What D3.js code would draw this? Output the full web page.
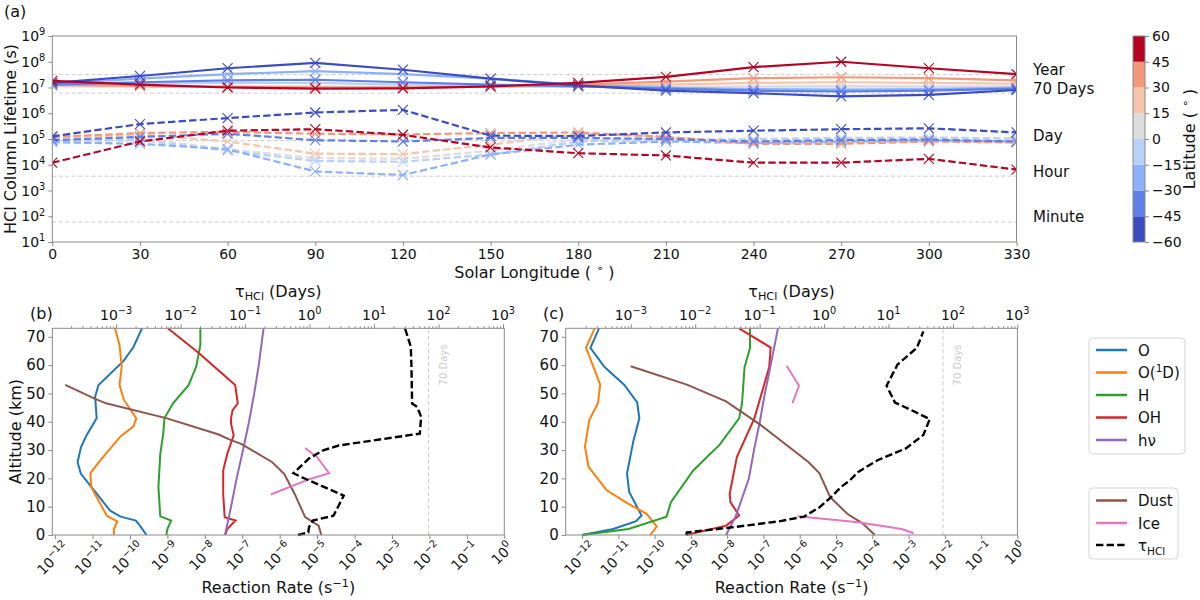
<!DOCTYPE html>
<html><head><meta charset="utf-8">
<script src="https://cdn.jsdelivr.net/npm/d3@7/dist/d3.min.js"></script>
<style>body{margin:0;background:#fff}svg text{font-family:"DejaVu Sans",sans-serif;fill:#111}</style>
</head><body>
<script>
// ================= DATA =================
// Panel (a): HCl column lifetime (s) vs solar longitude, per latitude band
const solarLongitude = [0,30,60,90,120,150,180,210,240,270,300,330];
const latitudeEdges = [-60,-45,-30,-15,0,15,30,45,60];
const latitudeBands = [-52.5,-37.5,-22.5,-7.5,7.5,22.5,37.5,52.5];
const latitudeColors = ['#3b4cc0','#5f7fe8','#8db0fe','#b9d0f9','#dddddd','#f5c4ac','#f4987a','#b40426'];

const solid_52S = [1.5e7,2.8e7,5.6e7,9e7,4.9e7,2.2e7,1.2e7,7.6e6,6e6,4.5e6,5.2e6,8e6];
const solid_37S = [1.3e7,1.6e7,1.9e7,2e7,1.6e7,1.3e7,1.1e7,9e6,7.5e6,7e6,7.5e6,9e6];
const solid_22S = [1.4e7,2.2e7,3.3e7,4.3e7,3.3e7,2.2e7,1.3e7,1e7,8.5e6,8e6,8.5e6,1e7];
const solid_07S = [1.2e7,1.4e7,1.5e7,1.5e7,1.3e7,1.2e7,1.1e7,9.5e6,9e6,9e6,9e6,1e7];
const solid_07N = [1.1e7,1.1e7,1.1e7,1.1e7,1.05e7,1.05e7,1.05e7,1.05e7,1.1e7,1.15e7,1.1e7,1.1e7];
const solid_22N = [1.2e7,1.1e7,1.05e7,1e7,1e7,1.05e7,1.15e7,1.3e7,1.5e7,1.6e7,1.5e7,1.4e7];
const solid_37N = [1.3e7,1.15e7,1.05e7,1e7,1e7,1.1e7,1.3e7,1.7e7,2.3e7,2.5e7,2.3e7,1.9e7];
const solid_52N = [1.8e7,1.3e7,1e7,9e6,9.2e6,1.1e7,1.5e7,2.6e7,6.2e7,1e8,5.6e7,3.3e7];

const dashed_52S = [1.27e5,3.8e5,6.5e5,1.07e6,1.35e6,1.35e5,1.3e5,1.8e5,2.1e5,2.4e5,2.6e5,1.8e5];
const dashed_37S = [9e4,1.2e5,1.6e5,9e4,8e4,1.1e5,1.1e5,1e5,8e4,9e4,9.5e4,8e4];
const dashed_22S = [7.5e4,6.5e4,4e4,5.5e3,4e3,2.5e4,6e4,8e4,7e4,8e4,9e4,8e4];
const dashed_07S = [8.5e4,9e4,3.5e4,1.4e4,1.3e4,2.5e4,8e4,9e4,1e5,1.1e5,1.15e5,1.05e5];
const dashed_07N = [9e4,1.05e5,4e4,1.8e4,1.7e4,3.5e4,1e5,1e5,9e4,1e5,1.1e5,1e5];
const dashed_22N = [1.1e5,1.5e5,8e4,2.7e4,2.6e4,6e4,1.6e5,1.2e5,7e4,7e4,8.5e4,7.5e4];
const dashed_37N = [1.2e5,1.7e5,1.9e5,1.6e5,1.5e5,1.7e5,1.8e5,1.2e5,6.5e4,6.5e4,8e4,7.3e4];
const dashed_52N = [1.2e4,8e4,2.1e5,2.4e5,1.45e5,4.7e4,2.8e4,2.3e4,1.2e4,1.2e4,1.7e4,6.5e3];

const solidSeries = [solid_52S,solid_37S,solid_22S,solid_07S,solid_07N,solid_22N,solid_37N,solid_52N];
const dashedSeries = [dashed_52S,dashed_37S,dashed_22S,dashed_07S,dashed_07N,dashed_22N,dashed_37N,dashed_52N];

const refTimes = [3.156e7, 6.048e6, 86400, 3600, 60];
const refLabels = ['Year','70 Days','Day','Hour','Minute'];
const lifetimeTicks = [1e1,1e2,1e3,1e4,1e5,1e6,1e7,1e8,1e9];

// Panels (b),(c): [altitude km, log10 reaction rate s^-1]  (tau: log10 days)
const altitudeTicks = [0,10,20,30,40,50,60,70];
const rateTickExps = [-12,-11,-10,-9,-8,-7,-6,-5,-4,-3,-2,-1,0];
const tauTickExps = [-3,-2,-1,0,1,2,3];
const tau70Days = 70;

const b_O = [[0,-9.56],[2.7,-9.7],[5.1,-9.84],[6.5,-10.25],[8.6,-10.53],[16.3,-10.99],[21.6,-11.31],[25.7,-11.4],[31,-11.31],[35,-11.17],[41.2,-10.89],[48.9,-10.93],[53,-10.84],[61.5,-10.17],[66.3,-9.91],[73,-9.68]];
const b_O1D = [[0,-10.43],[2.1,-10.43],[4.8,-10.34],[6.8,-10.62],[16.8,-11.03],[21.8,-11.06],[26.3,-10.8],[35,-10.24],[38.3,-9.91],[41.2,-9.83],[47.7,-10.16],[53,-10.28],[59.5,-10.22],[67.1,-10.28],[73,-10.4]];
const b_H = [[0,-9.03],[2.1,-9.0],[5.1,-8.9],[6.6,-9.19],[16.9,-9.24],[28.7,-9.19],[36,-9.11],[41.2,-9.08],[46.5,-8.85],[53,-8.43],[59.5,-8.23],[67.1,-8.12],[73,-8.12]];
const b_OH = [[0,-7.46],[2.1,-7.4],[5.1,-7.18],[6.3,-7.47],[14.5,-7.51],[22.8,-7.51],[28.7,-7.4],[35.2,-7.23],[39.3,-7.3],[41.2,-7.3],[44,-7.26],[46.5,-7.12],[53,-7.19],[64.4,-8.17],[73,-8.99]];
const b_hv = [[0,-7.46],[5,-7.38],[10,-7.3],[20,-7.15],[30,-6.98],[40,-6.82],[50,-6.68],[60,-6.56],[73,-6.43]];
const b_Dust = [[0,-4.89],[3.3,-4.96],[6.3,-5.32],[14.5,-5.6],[21.6,-5.88],[25.7,-6.2],[32.2,-7.03],[33.6,-7.32],[35.5,-7.63],[41.2,-9.01],[46.5,-10.64],[48.1,-10.93],[53,-11.73]];
const b_Ice = [[14.3,-6.24],[19.8,-5.19],[21.8,-4.68],[27.5,-5.0],[30.7,-5.32]];
const b_tau = [[0,-0.18],[0.9,-0.02],[2.7,-0.01],[5.1,0.05],[6.8,0.37],[13.9,0.53],[20.4,-0.12],[21.8,-0.25],[27,-0.01],[29.9,0.21],[31.6,0.45],[35.8,1.71],[41.7,1.73],[45.2,1.67],[46.4,1.59],[59.4,1.58],[66.5,1.57],[73,1.48]];

const c_O = [[0,-12.0],[2.1,-11.14],[4.9,-10.51],[6.9,-10.36],[15.2,-10.7],[21.7,-10.76],[33.5,-10.58],[41.2,-10.42],[46.8,-10.48],[53.1,-10.84],[59.3,-11.38],[66.1,-11.77],[73,-11.53]];
const c_O1D = [[0,-10.12],[3,-9.94],[7.5,-10.22],[11,-10.72],[15.8,-11.32],[24.1,-11.82],[31.2,-11.92],[40.6,-11.8],[46.6,-11.56],[53.1,-11.5],[66.2,-11.89],[73,-11.65]];
const c_H = [[0,-12.0],[2.1,-10.72],[6.5,-9.67],[11.6,-9.55],[22.9,-8.93],[31.8,-8.21],[41.2,-7.67],[46.5,-7.59],[59.3,-7.52],[66.1,-7.37],[73,-7.37]];
const c_OH = [[0,-9.13],[3.3,-8.03],[6.9,-7.67],[11.6,-7.91],[14.6,-7.93],[27.6,-7.73],[41.2,-7.25],[59.3,-6.84],[66.2,-6.8],[73,-7.67]];
const c_hv = [[0,-8.03],[3,-7.91],[6.5,-7.77],[10,-7.67],[20,-7.4],[30,-7.26],[40,-7.1],[50,-6.96],[60,-6.8],[73,-6.6]];
const c_Dust = [[0,-3.93],[4.1,-4.27],[7.5,-4.69],[13.4,-5.16],[21.9,-5.46],[25.8,-5.76],[38.9,-7.08],[47.2,-8.03],[53.1,-9.11],[59.6,-10.66]];
const c_Ice = [[0.6,-2.86],[2.1,-3.19],[4.5,-4.39],[6.6,-6.06],[null,null],[46.6,-6.2],[52.7,-6.02],[59.8,-6.36]];
const c_tau = [[0,-2.14],[0.9,-2.13],[2.1,-1.66],[3.3,-1.22],[4.9,-0.68],[6.5,-0.31],[9.8,-0.07],[13.4,0.11],[16.9,0.26],[19.3,0.4],[22.3,0.53],[26.4,0.83],[30.6,1.27],[35.3,1.54],[40.9,1.64],[43.6,1.4],[46.8,1.1],[52.7,0.97],[60.2,1.14],[66.1,1.44],[71.9,1.54]];

const speciesNames = ['O','O1D','H','OH','hv','Dust','Ice'];
const speciesColors = ['#1f77b4','#ff7f0e','#2ca02c','#d62728','#9467bd','#8c564b','#e377c2'];

// ================= DRAWING =================
const W = 1200, H = 600, AX = '#8a8a8a';
const svg = d3.select('body').append('svg').attr('width', W).attr('height', H);
const defs = svg.append('defs');

function rich(sel, parts, fs, subShift) {
  let shift = 0;
  parts.forEach(p => {
    const t = sel.append('tspan').text(p.t);
    const target = p.sup ? -0.4 * fs : (p.sub ? (subShift || 0.28) * fs : 0);
    if (target !== shift) t.attr('dy', target - shift);
    shift = target;
    if (p.sup || p.sub) t.attr('font-size', fs * 0.7);
  });
}
const expText = e => (e < 0 ? '\u2212' + (-e) : String(e));
const powParts = e => [{t:'10'},{t:expText(e), sup:true}];

function styleAxis(g) {
  g.select('.domain').remove();
  g.selectAll('line').attr('stroke', AX).attr('stroke-width', 1);
}

// ---------- Panel (a) ----------
const xA = d3.scaleLinear().domain([0,330]).range([52.3,1016.5]);
const yA = d3.scaleLog().domain([1e1,1e9]).range([242,36]);
const cband = d3.scaleThreshold().domain(latitudeEdges.slice(1,-1)).range(latitudeColors);

defs.append('clipPath').attr('id','clipA').append('rect')
  .attr('x', xA.range()[0]).attr('y', yA.range()[1])
  .attr('width', xA.range()[1]-xA.range()[0]).attr('height', yA.range()[0]-yA.range()[1]);

const gA = svg.append('g');
refTimes.forEach((t,i) => {
  gA.append('line').attr('x1', xA.range()[0]).attr('x2', xA.range()[1])
    .attr('y1', yA(t)).attr('y2', yA(t))
    .attr('stroke','#cccccc').attr('stroke-width',1).attr('stroke-dasharray','4,2.5');
  gA.append('text').attr('x', 1033).attr('y', yA(t)+0.5).attr('font-size',15).text(refLabels[i]);
});

const plotA = gA.append('g').attr('clip-path','url(#clipA)');
const lineA = d3.line().x((d,i) => xA(solarLongitude[i])).y(d => yA(d));
const order = [4,3,5,2,6,1,0,7];
order.forEach(k => {
  const col = cband(latitudeBands[k]);
  [[dashedSeries[k], '7.4,3.2'], [solidSeries[k], null]].forEach(([ser, dash]) => {
    plotA.append('path').datum(ser).attr('d', lineA).attr('fill','none')
      .attr('stroke', col).attr('stroke-width', 2.2)
      .attr('stroke-dasharray', dash);
    plotA.selectAll(null).data(ser).enter().append('path')
      .attr('transform', (d,i) => `translate(${xA(solarLongitude[i])},${yA(d)})`)
      .attr('d','M-5,-5L5,5M-5,5L5,-5').attr('stroke', col).attr('stroke-width',1.1).attr('fill','none');
  });
});

gA.append('rect').attr('x', xA.range()[0]).attr('y', yA.range()[1])
  .attr('width', xA.range()[1]-xA.range()[0]).attr('height', yA.range()[0]-yA.range()[1])
  .attr('fill','none').attr('stroke', AX).attr('stroke-width',1);

const axAx = gA.append('g').attr('transform', `translate(0,${yA.range()[0]})`)
  .call(d3.axisBottom(xA).tickValues(solarLongitude).tickSize(4).tickPadding(3));
styleAxis(axAx);
axAx.selectAll('text').attr('font-size',14).attr('font-family','"DejaVu Sans",sans-serif').attr('fill','#111');

const ayA = gA.append('g').attr('transform', `translate(${xA.range()[0]},0)`)
  .call(d3.axisLeft(yA).tickValues(lifetimeTicks).tickSize(4).tickFormat(''));
styleAxis(ayA);
lifetimeTicks.forEach(v => {
  const t = gA.append('text').attr('x', xA.range()[0]-7).attr('y', yA(v)+5)
    .attr('text-anchor','end').attr('font-size',14);
  rich(t, powParts(Math.round(Math.log10(v))), 14);
});
gA.append('text').attr('transform','translate(16,139) rotate(-90)').attr('text-anchor','middle')
  .attr('font-size',16).text('HCl Column Lifetime (s)');
{
  const t = gA.append('text').attr('x', (xA.range()[0]+xA.range()[1])/2).attr('y', 278)
    .attr('text-anchor','middle').attr('font-size',16);
  rich(t, [{t:'Solar Longitude ( '},{t:'\u2218', sup:true},{t:' )'}], 16);
}
gA.append('text').attr('x',4).attr('y',17).attr('font-size',16).text('(a)');

// colorbar
const yC = d3.scaleLinear().domain([-60,60]).range([242,36]);
const cbX = 1133, cbW = 12;
const gC = svg.append('g');
gC.selectAll('rect.bin').data(latitudeBands).enter().append('rect')
  .attr('x', cbX).attr('width', cbW)
  .attr('y', (d,i) => yC(latitudeEdges[i+1])).attr('height', (d,i) => yC(latitudeEdges[i]) - yC(latitudeEdges[i+1]))
  .attr('fill', d => cband(d));
gC.append('rect').attr('x', cbX).attr('y', yC(60)).attr('width', cbW).attr('height', yC(-60)-yC(60))
  .attr('fill','none').attr('stroke', AX);
const cAx = gC.append('g').attr('transform', `translate(${cbX+cbW},0)`)
  .call(d3.axisRight(yC).tickValues(latitudeEdges).tickSize(4).tickPadding(3));
styleAxis(cAx);
cAx.selectAll('text').attr('font-size',14).attr('font-family','"DejaVu Sans",sans-serif').attr('fill','#111');
{
  const t = gC.append('text').attr('transform','translate(1195,139) rotate(-90)').attr('text-anchor','middle').attr('font-size',16);
  rich(t, [{t:'Latitude ( '},{t:'\u2218', sup:true},{t:' )'}], 16);
}

// ---------- Panels (b),(c) ----------
const yP = d3.scaleLinear().domain([0,73]).range([535,328.3]);

function profilePanel(cfg) {
  const g = svg.append('g');
  const x = d3.scaleLog().domain([Math.pow(10,cfg.rateMin), 1]).range([cfg.x0, cfg.x1]);
  const xt = d3.scaleLog().domain([Math.pow(10,cfg.tauMin), Math.pow(10,cfg.tauMax)]).range([cfg.x0, cfg.x1]);
  const line = d3.line().defined(d => d[1] !== null).x(d => x(Math.pow(10,d[1]))).y(d => yP(d[0]));
  const lineT = d3.line().x(d => xt(Math.pow(10,d[1]))).y(d => yP(d[0]));

  g.append('line').attr('x1', xt(tau70Days)).attr('x2', xt(tau70Days)).attr('y1', yP(0)).attr('y2', yP(73))
    .attr('stroke','#cccccc').attr('stroke-dasharray','4,2.5');
  g.append('text').attr('transform', `translate(${xt(tau70Days)+18},365) rotate(-90)`).attr('text-anchor','middle')
    .attr('font-size',10).style('fill','#cccccc').text('70 Days');

  cfg.data.forEach((d,i) => {
    g.append('path').datum(d).attr('d', line).attr('fill','none')
      .attr('stroke', speciesColors[i]).attr('stroke-width', 2);
  });
  g.append('path').datum(cfg.tau).attr('d', lineT).attr('fill','none')
    .attr('stroke','#000').attr('stroke-width', 2.4).attr('stroke-dasharray','7.4,3.2');

  g.append('rect').attr('x', cfg.x0).attr('y', yP(73)).attr('width', cfg.x1-cfg.x0).attr('height', yP(0)-yP(73))
    .attr('fill','none').attr('stroke', AX);

  const bt = rateTickExps.map(e => Math.pow(10,e));
  const ab = g.append('g').attr('transform', `translate(0,${yP(0)})`)
    .call(d3.axisBottom(x).tickValues(bt).tickSize(4).tickFormat(''));
  styleAxis(ab);
  rateTickExps.forEach(e => {
    const t = g.append('text').attr('text-anchor','middle').attr('font-size',14).attr('dominant-baseline','central');
    rich(t, powParts(e), 14);
    const L = t.node().getComputedTextLength();
    const hb = (L + 14) * 0.7071;
    t.attr('transform', `translate(${x(Math.pow(10,e))-2},${540 + hb/2}) rotate(-45)`);
  });
  {
    const t = g.append('text').attr('x', (cfg.x0+cfg.x1)/2).attr('y', 593).attr('text-anchor','middle').attr('font-size',16);
    rich(t, [{t:'Reaction Rate (s'},{t:'\u22121', sup:true},{t:')'}], 16);
  }
  const tt = tauTickExps.map(e => Math.pow(10,e));
  const minor = [];
  for (let e = Math.floor(cfg.tauMin); e < Math.ceil(cfg.tauMax); e++)
    for (let m = 2; m <= 9; m++) { const v = m*Math.pow(10,e); if (v >= xt.domain()[0] && v <= xt.domain()[1]) minor.push(v); }
  const atm = g.append('g').attr('transform', `translate(0,${yP(73)})`)
    .call(d3.axisTop(xt).tickValues(minor).tickSize(2).tickFormat(''));
  styleAxis(atm);
  const at = g.append('g').attr('transform', `translate(0,${yP(73)})`)
    .call(d3.axisTop(xt).tickValues(tt).tickSize(4).tickFormat(''));
  styleAxis(at);
  tauTickExps.forEach(e => {
    const t = g.append('text').attr('x', xt(Math.pow(10,e))).attr('y', 320).attr('text-anchor','middle').attr('font-size',14);
    rich(t, powParts(e), 14);
  });
  {
    const t = g.append('text').attr('x', (cfg.x0+cfg.x1)/2).attr('y', 297).attr('text-anchor','middle').attr('font-size',16);
    rich(t, [{t:'\u03c4'},{t:'HCl', sub:true},{t:' (Days)'}], 16, 0.18);
  }
  g.append('text').attr('x', cfg.labelX).attr('y', 319).attr('font-size',16).text(cfg.label);

  const al = g.append('g').attr('transform', `translate(${cfg.x0},0)`)
    .call(d3.axisLeft(yP).tickValues(altitudeTicks).tickSize(4).tickPadding(3));
  styleAxis(al);
  al.selectAll('text').attr('font-size',15).attr('font-family','"DejaVu Sans",sans-serif').attr('fill','#111');
  if (cfg.ylabel) g.append('text').attr('transform','translate(21,431.5) rotate(-90)').attr('text-anchor','middle')
    .attr('font-size',16).text('Altitude (km)');
}

profilePanel({x0:52.3, x1:504.3, rateMin:-12.075, tauMin:-3.99, tauMax:3.02,
  data:[b_O,b_O1D,b_H,b_OH,b_hv,b_Dust,b_Ice], tau:b_tau, label:'(b)', labelX:30, ylabel:true});
profilePanel({x0:565.7, x1:1017.4, rateMin:-12.45, tauMin:-4.01, tauMax:3.0,
  data:[c_O,c_O1D,c_H,c_OH,c_hv,c_Dust,c_Ice], tau:c_tau, label:'(c)', labelX:543, ylabel:false});

// ---------- Legends ----------
function legend(x, y, w, h, rows) {
  const g = svg.append('g');
  g.append('rect').attr('x', x).attr('y', y).attr('width', w).attr('height', h).attr('rx', 4)
    .attr('fill','#fff').attr('stroke','#d5d5d5');
  rows.forEach(r => {
    g.append('line').attr('x1', x+7).attr('x2', x+38).attr('y1', r.y).attr('y2', r.y)
      .attr('stroke', r.color).attr('stroke-width', r.dash ? 2.4 : 2.5).attr('stroke-dasharray', r.dash || null);
    const t = g.append('text').attr('x', x+49).attr('y', r.y+5.5).attr('font-size',15);
    rich(t, r.parts, 15);
  });
}
legend(1089, 338, 96, 116, [
  {y:350, color:speciesColors[0], parts:[{t:'O'}]},
  {y:372.5, color:speciesColors[1], parts:[{t:'O('},{t:'1',sup:true},{t:'D)'}]},
  {y:395, color:speciesColors[2], parts:[{t:'H'}]},
  {y:417.5, color:speciesColors[3], parts:[{t:'OH'}]},
  {y:440, color:speciesColors[4], parts:[{t:'h\u03bd'}]}
]);
legend(1089, 488, 89, 71, [
  {y:500.5, color:speciesColors[5], parts:[{t:'Dust'}]},
  {y:523, color:speciesColors[6], parts:[{t:'Ice'}]},
  {y:545, color:'#000', dash:'7.4,3.2', parts:[{t:'\u03c4'},{t:'HCl',sub:true}]}
]);
</script>
</body></html>
